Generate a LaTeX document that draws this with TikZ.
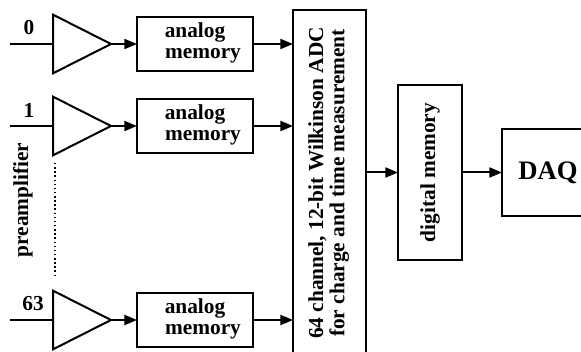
\documentclass[tikz,border=0pt]{standalone}
\usepackage{fontspec}
\setmainfont{Liberation Serif}
\usetikzlibrary{arrows.meta,shapes.geometric}

\tikzset{
  blk/.style={draw, line width=1.5pt, inner sep=0pt, outer sep=0pt,
    font=\fontsize{16}{16}\selectfont\bfseries},
  amp/.style={draw, line width=1.5pt, isosceles triangle,
    isosceles triangle stretches, minimum width=44pt, minimum height=43.5pt,
    inner sep=0pt, outer sep=0pt},
  wire/.style={line width=1.5pt},
  sig/.style={line width=1.5pt, -{Triangle[length=9.5pt,width=7.5pt]}},
  lbl/.style={font=\fontsize{16}{16}\selectfont\bfseries}
}

\begin{document}
\begin{tikzpicture}[x=0.75pt,y=-0.75pt]
\useasboundingbox (0,0) rectangle (581,352);
\clip (0,0) rectangle (581,352);

% ADC, digital memory and DAQ
\node[blk, minimum width=54.75pt, minimum height=259.5pt] (adc) at (329.5,183)
  {\rotatebox{90}{\begin{tabular}{c}64 channel, 12-bit Wilkinson ADC\\for charge and time measurement\end{tabular}}};
\node[blk, minimum width=48pt, minimum height=131.25pt] (dig) at (430,172.5)
  {\rotatebox{90}{digital memory}};
\node[blk, minimum width=69pt, minimum height=65.25pt,
  font=\fontsize{20}{22}\selectfont\bfseries] (daq) at (548,172.5) {DAQ};

% the channels
\foreach \ch/\yy/\lx in {0/44/29,1/126/29,63/320/33}{
  \coordinate (in\ch) at (10,\yy);
  \node[amp, anchor=lower side] (a\ch) at (53,\yy) {};
  \node[lbl] (n\ch) at (\lx,\yy-16) {\ch};
  \node[blk, minimum width=87pt, minimum height=40pt] (m\ch) at (195,\yy)
    {\begin{tabular}{c}analog\\\hspace{12pt}memory\end{tabular}};
  \draw[wire] (in\ch) -- (a\ch.lower side);
  \draw[sig] (a\ch.apex) -- (m\ch.west);
  \draw[sig] (m\ch.east) -- (m\ch.east -| adc.west);
}

% dots between channel 1 and 63
\coordinate (d1) at (55,163);
\coordinate (d2) at (55,277);
\draw[dotted, line width=1.1pt] (d1) -- (d2);
\node[lbl, rotate=90] (pre) at (23,200) {preamplifier};

\draw[sig] (adc.east |- dig.west) -- (dig.west);
\draw[sig] (dig.east) -- (daq.west);
\end{tikzpicture}
\end{document}
